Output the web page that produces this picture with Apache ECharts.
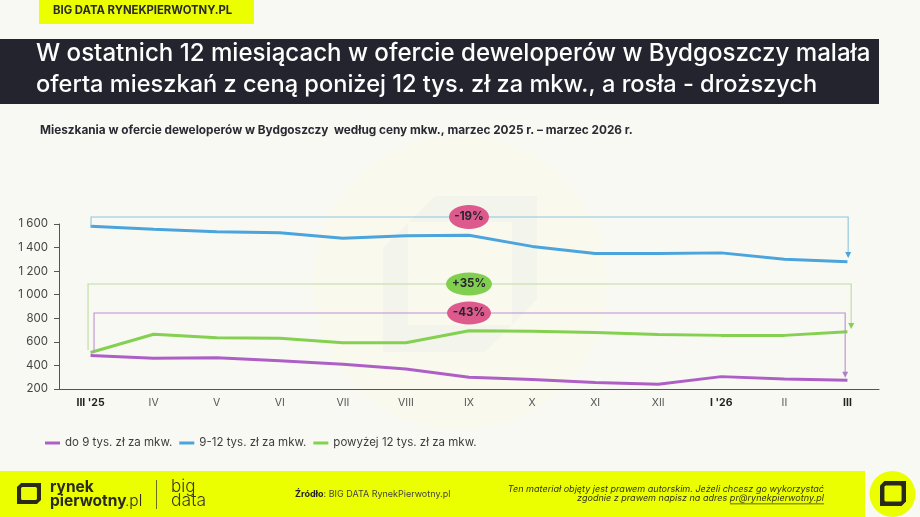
<!DOCTYPE html>
<html><head><meta charset="utf-8">
<style>html,body{margin:0;padding:0;background:#f9f9f4}#c{width:920px;height:517px}</style>
<script src="https://cdn.jsdelivr.net/npm/echarts@6/dist/echarts.min.js"></script>
</head><body><div id="c"></div>
<script>
const categories = ["III '25","IV","V","VI","VII","VIII","IX","X","XI","XII","I '26","II","III"];
const boldCategories = ["III '25","I '26","III"];
const seriesNames = ["do 9 tys. zł za mkw.","9-12 tys. zł za mkw.","powyżej 12 tys. zł za mkw."];
const under9 = [485,460,465,440,410,370,300,280,255,240,305,285,275];
const from9to12 = [1580,1555,1535,1525,1480,1500,1505,1410,1350,1350,1355,1300,1280];
const over12 = [510,665,635,630,592,592,695,690,680,662,655,655,685];
const changeLabels = ["-19%","+35%","-43%"];
const changeLevels = [1659,1091,845];
const changeFrom = [1580,531,508];
const changeTo = [1311,709,296];
const FONT = 'Inter, "Noto Sans", sans-serif';
const colors = ["#ae5fc6","#4ba4dc","#84d050"];

const annStyle = [
  {line:"#8fc5dc", arrow:"#4ba4dc", pill:"#dc5a8c", rx:20, ry:12, dxA:0.5, dxB:0.7},
  {line:"#bcdc9f", arrow:"#84d050", pill:"#80cf4f", rx:23, ry:11.5, dxA:-2.5, dxB:3.7},
  {line:"#bb90ce", arrow:"#ae7fc6", pill:"#dc5a8c", rx:22, ry:11.5, dxA:3.5, dxB:-2.3}
];
function renderAnn(params, api){
  const i = params.dataIndex, s = annStyle[i];
  const a = api.coord([0, api.value(1)]), t = api.coord([12, api.value(0)]), b = api.coord([12, api.value(2)]);
  const pc = api.coord([6, api.value(0)]);
  const xa = a[0]+s.dxA, xb = t[0]+s.dxB, ty = t[1], ya = a[1], yb = b[1];
  return {type:'group', children:[
    {type:'polyline', shape:{points:[[xa,ya],[xa,ty],[xb,ty],[xb,yb-4]]}, style:{fill:null, stroke:s.line, lineWidth:1.1}},
    {type:'polygon', shape:{points:[[xb-3,yb-6],[xb+3,yb-6],[xb,yb]]}, style:{fill:s.arrow}},
    {type:'ellipse', shape:{cx:pc[0],cy:pc[1],rx:s.rx,ry:s.ry}, style:{fill:s.pill}},
    {type:'text', style:{x:pc[0],y:pc[1],text:changeLabels[i],align:'center',verticalAlign:'middle',fill:'#2a2430',font:'700 11.5px '+FONT}}
  ]};
}
function logo(x,y,w,h,dark,inner){
  const c=w*0.17, t=w*0.17;
  return [
    {type:'polygon', z:1, shape:{points:[[x,y+c],[x+c,y],[x+w,y],[x+w,y+h-c],[x+w-c,y+h],[x,y+h]]}, style:{fill:dark}},
    {type:'rect', z:1, shape:{x:x+t,y:y+t,width:w-2*t,height:h-2*t,r:1.5}, style:{fill:inner}}
  ];
}
function txt(x,y,text,font,fill,align){
  return {type:'text', z:3, style:{x,y,text,font:font+' '+FONT,fill,align:align||'left',verticalAlign:'middle'}};
}
const chart = echarts.init(document.getElementById('c'), null, {renderer:'canvas'});
chart.setOption({
  animation:false,
  backgroundColor:'#f9f9f4',
  grid:{left:59,right:41,top:224,bottom:128,containLabel:false},
  legend:{left:40,top:432,itemGap:7,itemWidth:15,itemHeight:3,icon:'rect',data:seriesNames,
    textStyle:{fontFamily:FONT,fontSize:11.5,color:'#3d3d3d'}},
  xAxis:{type:'category',data:categories.map(v=>boldCategories.includes(v)
      ?{value:v,textStyle:{fontWeight:'bold',color:'#222'}}:v),
    axisTick:{show:false},axisLine:{lineStyle:{color:'#555',width:1}},
    axisLabel:{interval:0,margin:8,fontFamily:FONT,fontSize:10.5,color:'#555'}},
  yAxis:{type:'value',min:200,max:1600,interval:200,splitLine:{show:false},
    axisLine:{show:true,lineStyle:{color:'#555'}},axisTick:{show:true,length:5,lineStyle:{color:'#555'}},
    axisLabel:{margin:11,fontFamily:FONT,fontSize:11.5,color:'#444',
      formatter:v=>v>=1000?String(v).replace(/(\d)(\d{3})$/,'$1 $2'):String(v)}},
  series:[
    ...[under9,from9to12,over12].map((d,i)=>({type:'line',name:seriesNames[i],data:d,symbol:'none',
      lineStyle:{width:3,color:colors[i]},itemStyle:{color:colors[i]},z:3})),
    {type:'custom',renderItem:renderAnn,clip:false,z:5,silent:true,
     encode:{y:0},data:changeLevels.map((v,i)=>[v,changeFrom[i],changeTo[i]])}
  ],
  graphic:[
    {type:'circle',z:-3,shape:{cx:460,cy:283,r:147},style:{fill:'#f9f9ee'}},
    {type:'polygon',z:-2,shape:{points:[[383,248],[435,196],[537,196],[537,299],[485,352],[383,352]]},style:{fill:'#f3f4eb'}},
    {type:'rect',z:-1,shape:{x:408,y:222,width:104,height:103},style:{fill:'#f9f9ee'}},
    {type:'rect',z:1,shape:{x:39,y:0,width:215,height:24},style:{fill:'#ebff00'}},
    txt(53,11,'BIG DATA RYNEKPIERWOTNY.PL','700 11.3px','#2a2a2a'),
    {type:'rect',z:1,shape:{x:0,y:39,width:879,height:65},style:{fill:'#23242e'}},
    txt(36,54,'W ostatnich 12 miesiącach w ofercie deweloperów w Bydgoszczy malała','500 24.1px','#fff'),
    txt(36,85,'oferta mieszkań z ceną poniżej 12 tys. zł za mkw., a rosła - droższych','500 23.6px','#fff'),
    txt(40,130,'Mieszkania w ofercie deweloperów w Bydgoszczy  według ceny mkw., marzec 2025 r. – marzec 2026 r.','700 11.8px','#2a2a33'),
    {type:'rect',z:1,shape:{x:0,y:471,width:865,height:46},style:{fill:'#ebff00'}},
    ...logo(17,483,24,21,'#2a2a1a','#ebff00'),
    txt(50,487,'rynek','700 15.5px','#2a2a1a'),
    txt(50,501,'pierwotny','700 15.5px','#2a2a1a'),
    txt(125,501,'.pl','300 15.5px','#2a2a1a'),
    {type:'rect',z:1,shape:{x:156,y:480,width:1,height:29},style:{fill:'#6a6f20'}},
    txt(171,487,'big','300 17px','#3a3a20'),
    txt(171,501,'data','300 17.5px','#3a3a20'),
    {type:'text',z:3,style:{x:295,y:494,text:'{b|Źródło}: BIG DATA RynekPierwotny.pl',verticalAlign:'middle',
      rich:{b:{font:'700 9px '+FONT,fill:'#222'}},font:'400 9px '+FONT,fill:'#444'}},
    txt(824,489,'Ten materiał objęty jest prawem autorskim. Jeżeli chcesz go wykorzystać','italic 400 9.05px','#33351a','right'),
    txt(824,498.5,'zgodnie z prawem napisz na adres pr@rynekpierwotny.pl','italic 400 9.05px','#33351a','right'),
    {type:'rect',z:3,shape:{x:730,y:503.5,width:94,height:0.8},style:{fill:'#33351a'}},
    {type:'circle',z:1,shape:{cx:892.5,cy:494,r:23},style:{fill:'#ebff00'}},
    ...logo(880,481,26,25,'#2a2a1a','#ebff00')
  ]
});
</script></body></html>
